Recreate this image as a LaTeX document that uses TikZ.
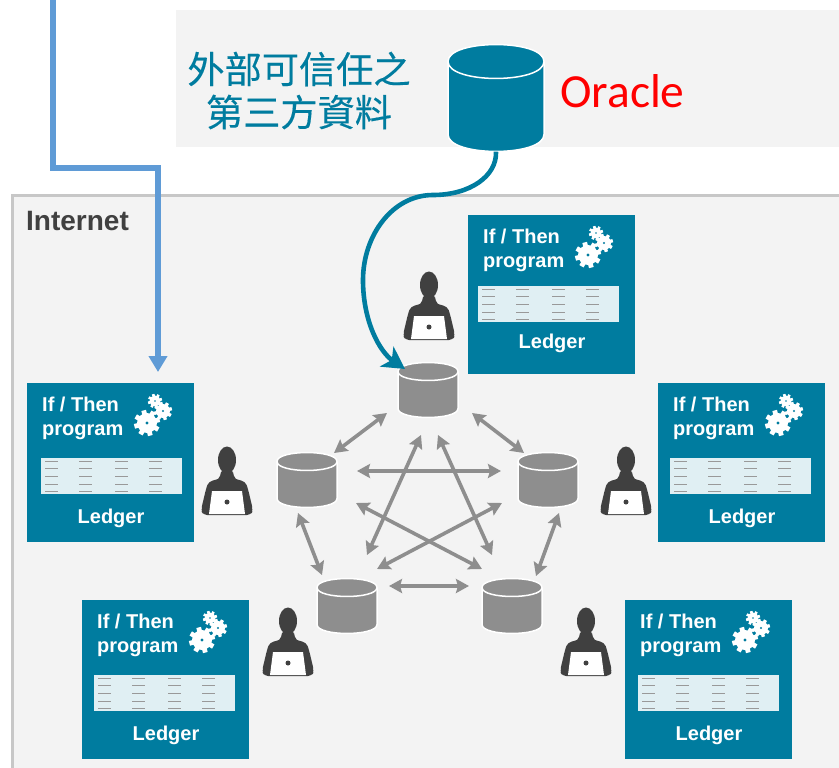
\documentclass[tikz,border=0pt]{standalone}
\usepackage{fontspec}
\setmainfont{Liberation Sans}
\newfontfamily\cjkfont[FakeBold=0.35]{Noto Sans CJK TC}
\newfontfamily\calibrifont{Carlito}
\usetikzlibrary{arrows.meta}
\definecolor{tealbox}{HTML}{007C9F}
\definecolor{panelgray}{HTML}{F3F3F3}
\definecolor{dbgray}{HTML}{8E8E8E}
\definecolor{persongray}{HTML}{404040}
\definecolor{bluewire}{HTML}{5F9BD6}
\tikzstyle{panel} = [rectangle, anchor=north west, inner sep=0pt, fill=panelgray]
\tikzstyle{card} = [rectangle, anchor=north west, inner sep=0pt, minimum width=167pt, minimum height=159pt, fill=tealbox]
\tikzstyle{cardtext} = [text=white, font=\bfseries\fontsize{20}{24}\selectfont, inner sep=0pt]
\tikzstyle{dbbase} = [rectangle, inner sep=0pt]
\tikzstyle{link} = [line width=3.6pt, draw=dbgray, {Stealth[length=13pt,width=14pt,inset=2pt]}-{Stealth[length=13pt,width=14pt,inset=2pt]}]
\tikzstyle{tealarrow} = [line width=4.6pt, draw=tealbox, -{Stealth[length=22pt,width=24pt,inset=6pt]}]
\tikzstyle{bluearrow} = [line width=5.5pt, draw=bluewire, -{Triangle[length=16pt,width=18pt]}]
\newcommand{\gear}[3]{
	\fill[white] (#1,#2) circle (#3);
	\foreach \ang in {0,45,...,315}
		\fill[white, shift={(#1,#2)}, rotate=\ang+15] (-0.24*#3,0) rectangle (0.24*#3,1.3*#3);
	\fill[tealbox] (#1,#2) circle (0.16*#3);
}
\newcommand{\ledgercard}[6]{
	\node (#1) [card] at (#2,#3) {};
	\node (#1if) [cardtext, anchor=base west] at (#2+15,#3+28) {If / Then};
	\node (#1prog) [cardtext, anchor=base west] at (#2+15,#3+52) {program};
	\node (#1table) [panel, fill=tealbox!12, minimum width=141pt, minimum height=36pt] at (#2+#4,#3+#5) {};
	\foreach \yy in {3,10,18,26,33}
		\foreach \xx in {4,38,74,108}
			\draw[black!40, line width=0.7pt] (#2+#4+\xx,#3+#5+\yy) -- ++(13,0);
	\node (#1led) [cardtext, anchor=base] at (#2+84,#3+#6) {Ledger};
	\gear{#2+120}{#3+40}{10}
	\gear{#2+128}{#3+18}{5.5}
	\gear{#2+136}{#3+28}{7}
}
\newcommand{\person}[2]{
	\fill[persongray] (#1,#2+13) ellipse (9 and 13.5);
	\fill[persongray, rounded corners=4pt] (#1-6,#2+22) -- (#1-6,#2+29) .. controls (#1-10,#2+33) and (#1-18,#2+33) .. (#1-21,#2+42) -- (#1-26,#2+63) -- (#1-24,#2+68) -- (#1+24,#2+68) -- (#1+26,#2+63) -- (#1+21,#2+42) .. controls (#1+18,#2+33) and (#1+10,#2+33) .. (#1+6,#2+29) -- (#1+6,#2+22) -- cycle;
	\fill[white] (#1-15,#2+44) -- (#1+15,#2+44) -- (#1+18,#2+67) -- (#1-18,#2+67) -- cycle;
	\fill[persongray] (#1,#2+55) circle (2.5);
}
\newcommand{\dbcan}[7]{
	\node (#1) [dbbase, minimum width=2*#4 pt, minimum height=2*#5 pt] at (#2,#3) {};
	\path[fill=#7, draw=white, line width=1.5pt] (#2-#4,#3-#5+#6) .. controls (#2-#4,#3-#5-0.33*#6) and (#2+#4,#3-#5-0.33*#6) .. (#2+#4,#3-#5+#6) -- (#2+#4,#3+#5-#6) .. controls (#2+#4,#3+#5+0.33*#6) and (#2-#4,#3+#5+0.33*#6) .. (#2-#4,#3+#5-#6) -- cycle;
	\draw[white, line width=1.5pt] (#2-#4,#3-#5+#6) .. controls (#2-#4,#3-#5+2.33*#6) and (#2+#4,#3-#5+2.33*#6) .. (#2+#4,#3-#5+#6);
}

\begin{document}
\begin{tikzpicture}[x=1pt, y=-1pt]
		\useasboundingbox (0,0) rectangle (839,768);
		\node (toppanel) [panel, minimum width=663pt, minimum height=137pt] at (176,10) {};
		\node (internet) [panel, draw=black!22, line width=2.5pt, minimum width=840pt, minimum height=590pt] at (11,194) {};
		\node (internetlabel) [anchor=west, inner sep=0pt, text=persongray, font=\bfseries\fontsize{28}{32}\selectfont] at (26,221) {Internet};
		\node (thirdone) [text=tealbox, inner sep=0pt, font=\cjkfont\fontsize{37.2}{40}\selectfont] at (299,69) {外部可信任之};
		\node (thirdtwo) [text=tealbox, inner sep=0pt, font=\cjkfont\fontsize{37.2}{40}\selectfont] at (299,112) {第三方資料};
		\node (oracletext) [anchor=base west, inner sep=0pt, text=red, font=\calibrifont\fontsize{47.5}{50}\selectfont] at (560,107) {Oracle};
		\dbcan{oracle}{496}{98}{48}{53.5}{17}{tealbox}
		\ledgercard{cardtop}{468}{215}{10}{71}{133}
		\ledgercard{cardleft}{27}{383}{14}{75}{140}
		\ledgercard{cardright}{658}{383}{12}{75}{140}
		\ledgercard{cardlow}{82}{600}{12}{75}{140}
		\ledgercard{cardbr}{625}{600}{13}{75}{140}
		\person{429}{272}
		\person{227}{447}
		\person{626}{447}
		\person{288}{608}
		\person{586}{608}
		\dbcan{dbtop}{428}{390}{30}{27.5}{9}{dbgray}
		\dbcan{dbleft}{307}{480}{30}{27.5}{9}{dbgray}
		\dbcan{dbright}{548}{480}{30}{27.5}{9}{dbgray}
		\dbcan{dblow}{347}{606}{30}{27.5}{9}{dbgray}
		\dbcan{dbbr}{512}{606}{30}{27.5}{9}{dbgray}
		\foreach \a/\ax/\ay/\b/\bx/\by in {dbtop/-41/23/dbleft/27/-27, dbtop/44/23/dbright/-24/-27, dbleft/-9/33/dblow/-25/-31, dbright/11/33/dbbr/24/-30, dblow/42/-20/dbbr/-43/-20, dbleft/50/-9/dbright/-47/-9, dbtop/-7/45/dblow/20/-51, dbtop/10/45/dbbr/-20/-51, dbleft/49/23/dbbr/-30/-37, dbright/-46/23/dblow/30/-37}
			\draw [link] ([shift={(\ax,\ay)}]\a.center) -- ([shift={(\bx,\by)}]\b.center);
		\coordinate (benda) at (433,195);
		\coordinate (bendb) at (363,280);
		\draw [tealarrow] (oracle.south) .. controls (497,176) and (470,195) .. (benda) .. controls (392,195) and (363,236) .. (bendb) .. controls (363,322) and (380,352) .. ([shift={(-23,-21)}]dbtop.center);
		\coordinate (bluestart) at (53,-4);
		\coordinate (bluecornera) at (53,168);
		\coordinate (bluecornerb) at (158,168);
		\coordinate (blueend) at (158,372);
		\draw [bluearrow, line join=miter] (bluestart) -- (bluecornera) -- (bluecornerb) -- (blueend);
	\end{tikzpicture}
\end{document}
